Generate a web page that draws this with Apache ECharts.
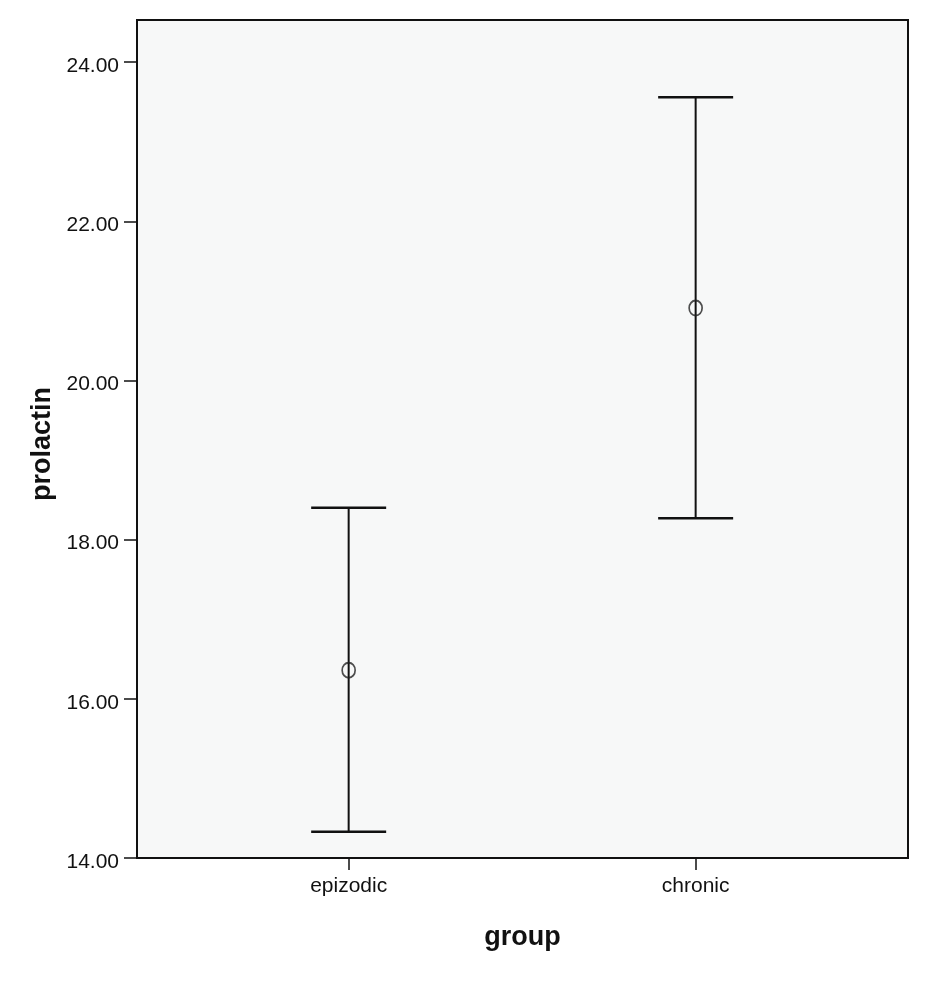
<!DOCTYPE html>
<html>
<head>
<meta charset="utf-8">
<script src="https://cdn.jsdelivr.net/npm/echarts@6/dist/echarts.min.js"></script>
<style>
html,body{margin:0;padding:0;background:#fff;}
#chart{width:945px;height:994px;}
</style>
</head>
<body>
<div id="chart"></div>
<script>
var categories = ['epizodic', 'chronic'];
var means = [16.36, 20.91];
var lower = [14.33, 18.27];
var upper = [18.40, 23.56];
var yTicks = [14, 16, 18, 20, 22, 24];
var xPositions = [0, 1];

var chart = echarts.init(document.getElementById('chart'));
var FONT = '"Liberation Sans", Arial, sans-serif';

var barData = categories.map(function (c, i) { return [xPositions[i], lower[i], upper[i]]; });
var meanData = categories.map(function (c, i) { return [xPositions[i], means[i]]; });

chart.setOption({
  animation: false,
  backgroundColor: '#ffffff',
  grid: {
    left: 137, right: 37, top: 20, bottom: 136,
    show: true, backgroundColor: '#f7f8f8', borderColor: '#111', borderWidth: 2
  },
  xAxis: {
    type: 'value',
    min: -0.610, max: 1.612,
    name: 'group',
    nameLocation: 'middle',
    nameGap: 66,
    nameTextStyle: { fontFamily: FONT, fontSize: 27, fontWeight: 'bold', color: '#111' },
    splitLine: { show: false },
    axisLine: { show: true, onZero: false, lineStyle: { color: '#111', width: 2 } },
    axisTick: { show: true, length: 12, customValues: xPositions, lineStyle: { color: '#111', width: 1.5 } },
    axisLabel: {
      customValues: xPositions, margin: 18,
      fontFamily: FONT, fontSize: 21, color: '#111',
      formatter: function (v) { var i = xPositions.indexOf(Math.round(v)); return i >= 0 ? categories[i] : ''; }
    }
  },
  yAxis: {
    type: 'value',
    min: 14, max: 24.53,
    name: 'prolactin',
    nameLocation: 'middle',
    nameGap: 72,
    nameTextStyle: { fontFamily: FONT, fontSize: 27, fontWeight: 'bold', color: '#111', padding: [0, 10, 0, 0] },
    splitLine: { show: false },
    axisLine: { show: true, onZero: false, lineStyle: { color: '#111', width: 2 } },
    axisTick: { show: true, length: 13, customValues: yTicks, lineStyle: { color: '#111', width: 1.5 } },
    axisLabel: {
      customValues: yTicks, margin: 18,
      fontFamily: FONT, fontSize: 21, color: '#111',
      verticalAlign: 'top', lineHeight: 8,
      formatter: function (v) { return v.toFixed(2); }
    }
  },
  series: [
    {
      type: 'custom',
      data: barData,
      z: 3,
      renderItem: function (params, api) {
        var x = api.value(0);
        var lo = api.coord([x, api.value(1)]);
        var hi = api.coord([x, api.value(2)]);
        var hw = 37.5;
        var style = { stroke: '#111', lineWidth: 2.5 };
        return {
          type: 'group',
          children: [
            { type: 'line', shape: { x1: lo[0], y1: lo[1], x2: hi[0], y2: hi[1] }, style: { stroke: '#111', lineWidth: 2 } },
            { type: 'line', shape: { x1: hi[0] - hw, y1: hi[1], x2: hi[0] + hw, y2: hi[1] }, style: style },
            { type: 'line', shape: { x1: lo[0] - hw, y1: lo[1], x2: lo[0] + hw, y2: lo[1] }, style: style }
          ]
        };
      }
    },
    {
      type: 'scatter',
      data: meanData,
      z: 4,
      symbol: 'circle',
      symbolSize: [13, 15],
      itemStyle: { color: 'rgba(0,0,0,0)', borderColor: '#222', borderWidth: 1.8 }
    }
  ]
});
</script>
</body>
</html>
